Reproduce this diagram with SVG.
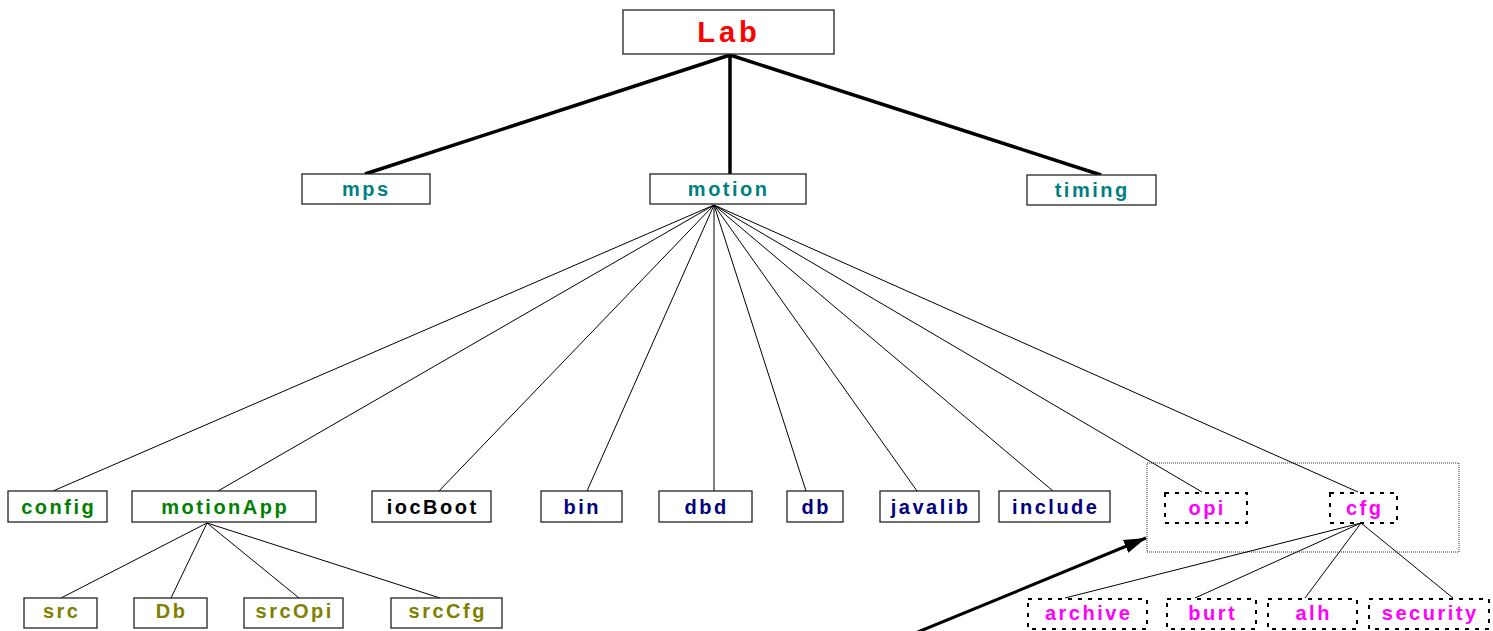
<svg xmlns="http://www.w3.org/2000/svg" width="1493" height="631" viewBox="0 0 1493 631">
<style>
  .box{fill:#fff;stroke:#222;stroke-width:1.3}
  .dbox{fill:#fff;stroke:#000;stroke-width:2;stroke-dasharray:4 6}
  .t{font-family:"Liberation Sans",Arial,sans-serif;font-weight:bold;font-size:20px;letter-spacing:2.5px;text-anchor:middle}
  .teal{fill:#008080}.green{fill:#008000}.navy{fill:#000080}.olive{fill:#808000}.mag{fill:#ff00ff}.blk{fill:#000}
  .thick{stroke:#000;stroke-width:3.5;fill:none}
  .thin{stroke:#000;stroke-width:1;fill:none}
</style>
<defs>
  <marker id="ah2" markerWidth="22" markerHeight="14" refX="22" refY="7" orient="auto" markerUnits="userSpaceOnUse">
    <path d="M0,0 L22,7 L0,14 Z" fill="#000"/>
  </marker>
</defs>
<rect x="1147" y="463" width="312" height="89" fill="none" stroke="#777" stroke-width="1.5" stroke-dasharray="1 1"/>
<g id="connectors">
  <line class="thick" x1="730" y1="55" x2="365" y2="174"/>
  <line class="thick" x1="730" y1="55" x2="730" y2="174"/>
  <line class="thick" x1="730" y1="55" x2="1101" y2="175"/>
  <line class="thin" x1="714" y1="205" x2="53" y2="491"/>
  <line class="thin" x1="714" y1="205" x2="218" y2="491"/>
  <line class="thin" x1="714" y1="205" x2="439" y2="491"/>
  <line class="thin" x1="714" y1="205" x2="587" y2="491"/>
  <line class="thin" x1="714" y1="205" x2="714" y2="491"/>
  <line class="thin" x1="714" y1="205" x2="806" y2="491"/>
  <line class="thin" x1="714" y1="205" x2="917" y2="491"/>
  <line class="thin" x1="714" y1="205" x2="1053" y2="491"/>
  <line class="thin" x1="714" y1="205" x2="1202" y2="492"/>
  <line class="thin" x1="714" y1="205" x2="1358" y2="492"/>
  <line class="thin" x1="207" y1="523" x2="61" y2="598"/>
  <line class="thin" x1="207" y1="523" x2="171" y2="598"/>
  <line class="thin" x1="207" y1="523" x2="299" y2="598"/>
  <line class="thin" x1="207" y1="523" x2="440" y2="598"/>
  <line class="thin" x1="1361" y1="523" x2="1065" y2="598"/>
  <line class="thin" x1="1361" y1="523" x2="1195" y2="598"/>
  <line class="thin" x1="1361" y1="523" x2="1305" y2="598"/>
  <line class="thin" x1="1361" y1="523" x2="1453" y2="598"/>
  <line x1="918" y1="632" x2="1146" y2="538" stroke="#000" stroke-width="3" marker-end="url(#ah2)"/>
</g>
<g id="Lab"><rect class="box" x="623" y="10" width="211" height="44"/><text class="t" x="729" y="42" style="font-size:29px;letter-spacing:4px;fill:#ff0000">Lab</text></g>
<g id="mps"><rect class="box" x="302" y="174" width="128" height="30"/><text class="t teal" x="366.2" y="196">mps</text></g>
<g id="motion"><rect class="box" x="650" y="174" width="156" height="30"/><text class="t teal" x="728.7" y="196">motion</text></g>
<g id="timing"><rect class="box" x="1027" y="175" width="129" height="30"/><text class="t teal" x="1092.2" y="197">timing</text></g>
<g id="config"><rect class="box" x="8" y="491" width="99" height="31"/><text class="t green" x="58.7" y="514">config</text></g>
<g id="motionApp"><rect class="box" x="132" y="491" width="184" height="31"/><text class="t green" x="225.2" y="514">motionApp</text></g>
<g id="iocBoot"><rect class="box" x="372" y="491" width="119" height="31"/><text class="t blk" x="432.7" y="514">iocBoot</text></g>
<g id="bin"><rect class="box" x="541" y="491" width="81" height="31"/><text class="t navy" x="582.2" y="514">bin</text></g>
<g id="dbd"><rect class="box" x="659" y="491" width="93" height="31"/><text class="t navy" x="706.7" y="514">dbd</text></g>
<g id="db"><rect class="box" x="787" y="491" width="56" height="31"/><text class="t navy" x="816.2" y="514">db</text></g>
<g id="javalib"><rect class="box" x="880" y="491" width="99" height="31"/><text class="t navy" x="930.7" y="514">javalib</text></g>
<g id="include"><rect class="box" x="999" y="491" width="111" height="31"/><text class="t navy" x="1055.7" y="514">include</text></g>
<g id="opi"><rect class="dbox" x="1165" y="493" width="82" height="30"/><text class="t mag" x="1207.2" y="515">opi</text></g>
<g id="cfg"><rect class="dbox" x="1330" y="493" width="67" height="30"/><text class="t mag" x="1364.7" y="515">cfg</text></g>
<g id="src"><rect class="box" x="24" y="598" width="73" height="30"/><text class="t olive" x="61.7" y="618">src</text></g>
<g id="Db"><rect class="box" x="134" y="598" width="73" height="30"/><text class="t olive" x="171.7" y="618">Db</text></g>
<g id="srcOpi"><rect class="box" x="244" y="598" width="99" height="30"/><text class="t olive" x="294.7" y="618">srcOpi</text></g>
<g id="srcCfg"><rect class="box" x="391" y="598" width="111" height="30"/><text class="t olive" x="447.7" y="618">srcCfg</text></g>
<g id="archive"><rect class="dbox" x="1028" y="599" width="119" height="30"/><text class="t mag" x="1088.7" y="620">archive</text></g>
<g id="burt"><rect class="dbox" x="1167" y="599" width="89" height="30"/><text class="t mag" x="1212.7" y="620">burt</text></g>
<g id="alh"><rect class="dbox" x="1268" y="599" width="89" height="30"/><text class="t mag" x="1313.7" y="620">alh</text></g>
<g id="security"><rect class="dbox" x="1369" y="599" width="120" height="30"/><text class="t mag" x="1430.2" y="620">security</text></g>
</svg>
